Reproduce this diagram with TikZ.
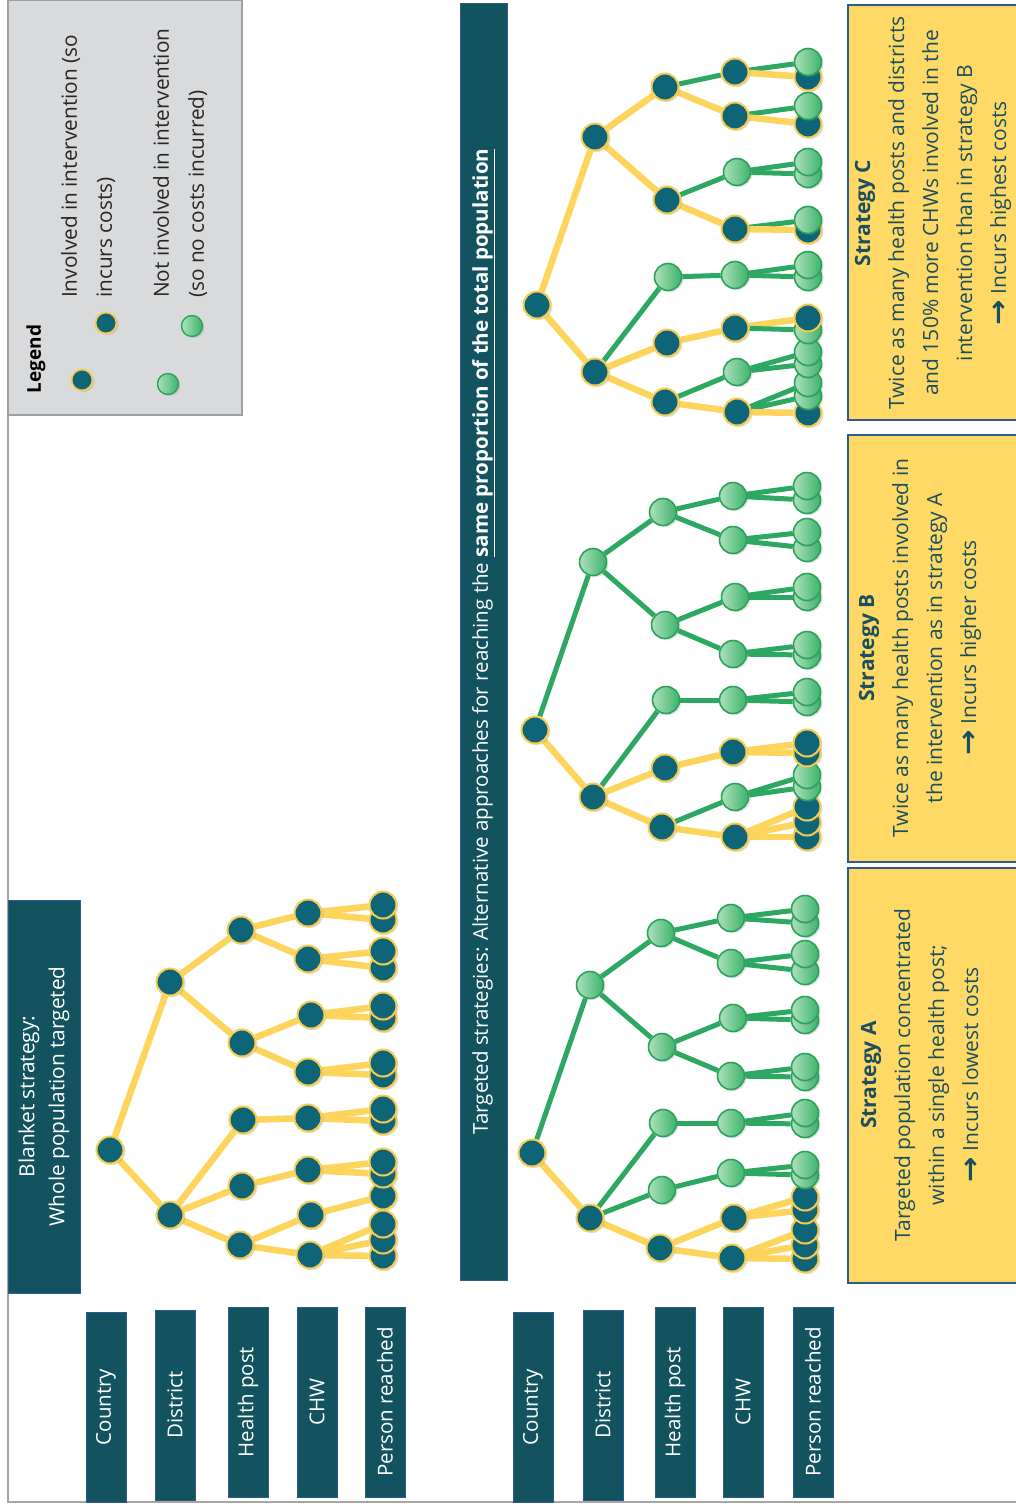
\documentclass[tikz,border=0pt]{standalone}
\usepackage{fontspec}
\setmainfont{Open Sans}
\newfontfamily\arrowfont{DejaVu Sans}
\usetikzlibrary{shadows}

\definecolor{boxteal}{HTML}{13535F}
\definecolor{nodeteal}{HTML}{0E6577}
\definecolor{nodering}{HTML}{F7CB4D}
\definecolor{edgeyellow}{HTML}{FDD55C}
\definecolor{edgegreen}{HTML}{2DA863}
\definecolor{greenlight}{HTML}{AEE0BC}
\definecolor{greendark}{HTML}{3BB46A}
\definecolor{greenring}{HTML}{2AA25A}
\definecolor{boxedge}{HTML}{2F5A8F}
\definecolor{noteyellow}{HTML}{FFD966}
\definecolor{notetext}{HTML}{1B4F5E}
\definecolor{legendfill}{HTML}{D9DADC}
\definecolor{legendedge}{HTML}{9FA0A4}
\definecolor{framegray}{HTML}{A6A6A6}

\pgfdeclarelayer{paper}
\pgfdeclarelayer{edges}
\pgfsetlayers{paper,edges,main}

% heavy arrow used in the strategy notes
\newcommand{\rarr}{\raisebox{-1pt}{\scalebox{1.45}[1.3]{\arrowfont\bfseries →}}}

\tikzset{
  nodeshadow/.style={drop shadow={opacity=0.22, shadow xshift=2pt, shadow yshift=-1.5pt}},
  edgeshadow/.style={preaction={draw=black, draw opacity=0.10, transform canvas={shift={(2pt,-1.5pt)}}}},
  inv/.style={circle, inner sep=0pt, minimum size=27pt, fill=nodeteal, draw=nodering, line width=2pt, nodeshadow},
  ninv/.style={circle, inner sep=0pt, minimum size=27pt, left color=greenlight, right color=greendark, draw=greenring, line width=1.6pt, nodeshadow},
  invsmall/.style={inv, minimum size=21pt, line width=1.8pt},
  ninvsmall/.style={ninv, minimum size=21pt, line width=1.4pt},
  yedge/.style={edgeshadow, draw=edgeyellow, line width=6.5pt},
  gedge/.style={edgeshadow, draw=edgegreen, line width=5pt},
  lvl/.style={rotate=90, fill=boxteal, draw=boxedge, line width=0.8pt, text=white,
    font=\fontsize{20.5}{24}\selectfont, minimum width=190pt, minimum height=40pt, inner sep=0pt},
  header/.style={rotate=90, fill=boxteal, draw=boxedge, line width=0.8pt, text=white, inner sep=0pt},
  note/.style={rotate=90, fill=noteyellow, draw=boxedge, line width=1.2pt, inner sep=0pt, minimum height=172pt},
  notetxt/.style={rotate=90, align=center, text=notetext, inner sep=0pt, font=\fontsize{21}{34}\selectfont},
  legtxt/.style={rotate=90, align=left, anchor=west, inner sep=0pt, text=black!85, font=\fontsize{20.8}{35}\selectfont},
}

\begin{document}
\begin{tikzpicture}[x=1pt, y=-1pt]
\useasboundingbox (0,0) rectangle (1016,1510);
\begin{pgfonlayer}{paper}
  \fill[white] (0,0) rectangle (1016,1510);
\end{pgfonlayer}

% page frame
\draw[framegray, line width=2pt] (8,0) -- (8,1502) -- (1016,1502);

% legend panel
\node[rectangle, fill=legendfill, draw=legendedge, line width=2.5pt, minimum width=234pt, minimum height=415pt, inner sep=0pt] (legend) at (125,207.5) {};
\node[rotate=90, inner sep=0pt, font=\fontsize{19}{23}\selectfont\bfseries] (legtitle) at (36,359) {Legend};
\node[legtxt] (legtxtA) at (88,298) {Involved in intervention (so\\incurs costs)};
\node[legtxt] (legtxtB) at (180,298) {Not involved in intervention\\(so no costs incurred)};
\node[invsmall] (lgA1) at (82,380) {};
\node[invsmall] (lgA2) at (106,323) {};
\node[ninvsmall] (lgB1) at (168,384) {};
\node[ninvsmall] (lgB2) at (192,326) {};
\begin{pgfonlayer}{edges}
  \draw[edgeshadow, draw=edgeyellow, line width=4.5pt] (lgA1) -- (lgA2);
  \draw[edgeshadow, draw=edgegreen, line width=4pt] (lgB1) -- (lgB2);
\end{pgfonlayer}

% section headers
\node[header, minimum width=393pt, minimum height=72pt, align=center, font=\fontsize{20.8}{30}\selectfont] (blanket) at (44,1096.5)
  {Blanket strategy:\\Whole population targeted};
\node[header, minimum width=1277pt, minimum height=47pt, font=\fontsize{20.5}{24}\selectfont] (targeted) at (483.5,641.5)
  {Targeted strategies: Alternative approaches for reaching the \underline{\textbf{same proportion of the total population}}};

% level labels
\node[lvl] (lA1) at (106,1407) {Country};
\node[lvl] (lA2) at (175,1405) {District};
\node[lvl] (lA3) at (248,1402) {Health post};
\node[lvl] (lA4) at (317,1402) {CHW};
\node[lvl] (lA5) at (385,1402) {Person reached};
\node[lvl] (lB1) at (533,1407) {Country};
\node[lvl] (lB2) at (603,1405) {District};
\node[lvl] (lB3) at (675,1402) {Health post};
\node[lvl] (lB4) at (743,1402) {CHW};
\node[lvl] (lB5) at (813,1402) {Person reached};

% strategy notes
\node[note, minimum width=415pt] (noteA) at (934,1075.5) {};
\node[note, minimum width=427pt] (noteB) at (934,648.5) {};
\node[note, minimum width=415pt] (noteC) at (934,212.5) {};
\node[notetxt] (noteAtxt) at (920,1075) {\textbf{Strategy A}\\Targeted population concentrated\\within a single health post;\\\rarr\ Incurs lowest costs};
\node[notetxt] (noteBtxt) at (920,648) {\textbf{Strategy B}\\Twice as many health posts involved in\\the intervention as in strategy A\\\rarr\ Incurs higher costs};
\node[notetxt] (noteCtxt) at (933,213) {\textbf{Strategy C}\\Twice as many health posts and districts\\and 150\% more CHWs involved in the\\intervention than in strategy B\\\rarr\ Incurs highest costs};

% ---------- blanket strategy tree ----------
\foreach \n/\s/\x/\y in {
  bl0/inv/110/1150, bl1/inv/170/982, bl2/inv/170/1215,
  bl11/inv/241/930, bl12/inv/242/1043, bl21/inv/243/1120, bl22/inv/242/1186, bl23/inv/240/1245,
  bl111/inv/308/913, bl112/inv/308/959, bl121/inv/311/1015, bl122/inv/308/1072,
  bl211/inv/308/1118, bl221/inv/308/1170, bl231/inv/311/1215, bl232/inv/310/1255,
  bl232c/inv/383/1256, bl232b/inv/383/1240, bl232a/inv/383/1224, bl231a/inv/383/1196,
  bl221b/inv/383/1174, bl221a/inv/383/1162, bl211b/inv/383/1121, bl211a/inv/383/1109,
  bl122b/inv/383/1075, bl122a/inv/383/1063, bl121b/inv/383/1018, bl121a/inv/383/1006,
  bl112b/inv/383/968, bl112a/inv/383/951, bl111b/inv/383/920, bl111a/inv/383/905}
  \node[\s] (\n) at (\x,\y) {};

% ---------- strategy A tree ----------
\foreach \n/\s/\x/\y in {
  sa0/inv/532/1153, sa1/ninv/590/985, sa2/inv/590/1218,
  sa11/ninv/661/933, sa12/ninv/662/1047, sa21/ninv/663/1123, sa22/ninv/662/1190, sa23/inv/660/1248,
  sa111/ninv/731/918, sa112/ninv/731/963, sa121/ninv/733/1018, sa122/ninv/731/1076,
  sa211/ninv/731/1123, sa221/ninv/731/1173, sa231/inv/734/1218, sa232/inv/732/1258,
  sa232c/inv/805/1259, sa232b/inv/805/1245, sa232a/inv/805/1230, sa231b/inv/805/1210, sa231a/inv/805/1197,
  sa221b/ninv/805/1175, sa221a/ninv/805/1165, sa211b/ninv/805/1124, sa211a/ninv/805/1113,
  sa122b/ninv/805/1077, sa122a/ninv/805/1067, sa121b/ninv/805/1020, sa121a/ninv/805/1010,
  sa112b/ninv/805/971, sa112a/ninv/805/954, sa111b/ninv/805/923, sa111a/ninv/805/909}
  \node[\s] (\n) at (\x,\y) {};

% ---------- strategy B tree ----------
\foreach \n/\s/\x/\y in {
  sb0/inv/535/730, sb1/ninv/593/562, sb2/inv/593/797,
  sb11/ninv/663/512, sb12/ninv/665/625, sb21/ninv/666/700, sb22/inv/665/768, sb23/inv/662/827,
  sb111/ninv/733/496, sb112/ninv/733/540, sb121/ninv/735/597, sb122/ninv/733/654,
  sb211/ninv/733/700, sb221/inv/733/752, sb231/ninv/735/797, sb232/inv/735/837,
  sb232c/inv/807/837, sb232b/inv/807/822, sb232a/inv/807/807, sb231b/ninv/807/787, sb231a/ninv/807/775,
  sb221b/inv/807/753, sb221a/inv/807/743, sb211b/ninv/807/702, sb211a/ninv/807/692,
  sb122b/ninv/807/655, sb122a/ninv/807/645, sb121b/ninv/807/597, sb121a/ninv/807/587,
  sb112b/ninv/807/548, sb112a/ninv/807/532, sb111b/ninv/807/500, sb111a/ninv/807/486}
  \node[\s] (\n) at (\x,\y) {};

% ---------- strategy C tree ----------
\foreach \n/\s/\x/\y in {
  sc0/inv/537/305, sc1/inv/595/137, sc2/inv/595/372,
  sc11/inv/665/87, sc12/inv/667/200, sc21/ninv/668/277, sc22/inv/667/343, sc23/inv/665/402,
  sc111/inv/735/72, sc112/inv/735/116, sc121/ninv/737/172, sc122/inv/735/229,
  sc211/ninv/735/275, sc221/inv/735/328, sc231/ninv/737/372, sc232/inv/737/412,
  sc232c/inv/808/413, sc232b/ninv/808/396, sc232a/ninv/808/383, sc231b/ninv/808/364, sc231a/ninv/808/352,
  sc221b/ninv/808/330, sc221a/inv/808/318, sc211b/ninv/808/277, sc211a/ninv/808/265,
  sc122b/inv/808/230, sc122a/ninv/808/220, sc121b/ninv/808/174, sc121a/ninv/808/162,
  sc112b/inv/808/124, sc112a/ninv/808/106, sc111b/inv/808/77, sc111a/ninv/808/62}
  \node[\s] (\n) at (\x,\y) {};

% ---------- connectors ----------
\begin{pgfonlayer}{edges}
\foreach \a/\b/\s in {
  bl0/bl1/yedge, bl0/bl2/yedge, bl1/bl11/yedge, bl1/bl12/yedge,
  bl2/bl21/yedge, bl2/bl22/yedge, bl2/bl23/yedge,
  bl11/bl111/yedge, bl11/bl112/yedge, bl12/bl121/yedge, bl12/bl122/yedge,
  bl21/bl211/yedge, bl22/bl221/yedge, bl23/bl231/yedge, bl23/bl232/yedge,
  bl111/bl111a/yedge, bl111/bl111b/yedge, bl112/bl112a/yedge, bl112/bl112b/yedge,
  bl121/bl121a/yedge, bl121/bl121b/yedge, bl122/bl122a/yedge, bl122/bl122b/yedge,
  bl211/bl211a/yedge, bl211/bl211b/yedge, bl221/bl221a/yedge, bl221/bl221b/yedge,
  bl231/bl231a/yedge, bl232/bl232a/yedge, bl232/bl232b/yedge, bl232/bl232c/yedge}
  \draw[\s] (\a) -- (\b);
\foreach \a/\b/\s in {
  sa0/sa1/gedge, sa0/sa2/yedge, sa1/sa11/gedge, sa1/sa12/gedge,
  sa2/sa21/gedge, sa2/sa22/gedge, sa2/sa23/yedge,
  sa11/sa111/gedge, sa11/sa112/gedge, sa12/sa121/gedge, sa12/sa122/gedge,
  sa21/sa211/gedge, sa22/sa221/gedge, sa23/sa231/yedge, sa23/sa232/yedge,
  sa111/sa111a/gedge, sa111/sa111b/gedge, sa112/sa112a/gedge, sa112/sa112b/gedge,
  sa121/sa121a/gedge, sa121/sa121b/gedge, sa122/sa122a/gedge, sa122/sa122b/gedge,
  sa211/sa211a/gedge, sa211/sa211b/gedge, sa221/sa221a/gedge, sa221/sa221b/gedge,
  sa231/sa231a/yedge, sa231/sa231b/yedge,
  sa232/sa232a/yedge, sa232/sa232b/yedge, sa232/sa232c/yedge}
  \draw[\s] (\a) -- (\b);
\foreach \a/\b/\s in {
  sb0/sb1/gedge, sb0/sb2/yedge, sb1/sb11/gedge, sb1/sb12/gedge,
  sb2/sb21/gedge, sb2/sb22/yedge, sb2/sb23/yedge,
  sb11/sb111/gedge, sb11/sb112/gedge, sb12/sb121/gedge, sb12/sb122/gedge,
  sb21/sb211/gedge, sb22/sb221/yedge, sb23/sb231/gedge, sb23/sb232/yedge,
  sb111/sb111a/gedge, sb111/sb111b/gedge, sb112/sb112a/gedge, sb112/sb112b/gedge,
  sb121/sb121a/gedge, sb121/sb121b/gedge, sb122/sb122a/gedge, sb122/sb122b/gedge,
  sb211/sb211a/gedge, sb211/sb211b/gedge, sb221/sb221a/yedge, sb221/sb221b/yedge,
  sb231/sb231a/gedge, sb231/sb231b/gedge,
  sb232/sb232a/yedge, sb232/sb232b/yedge, sb232/sb232c/yedge}
  \draw[\s] (\a) -- (\b);
\foreach \a/\b/\s in {
  sc0/sc1/yedge, sc0/sc2/yedge, sc1/sc11/yedge, sc1/sc12/yedge,
  sc2/sc21/gedge, sc2/sc22/yedge, sc2/sc23/yedge,
  sc11/sc111/gedge, sc11/sc112/yedge, sc12/sc121/gedge, sc12/sc122/yedge,
  sc21/sc211/gedge, sc22/sc221/yedge, sc23/sc231/gedge, sc23/sc232/yedge,
  sc111/sc111a/gedge, sc111/sc111b/yedge, sc112/sc112a/gedge, sc112/sc112b/yedge,
  sc121/sc121a/gedge, sc121/sc121b/gedge, sc122/sc122a/gedge, sc122/sc122b/yedge,
  sc211/sc211a/gedge, sc211/sc211b/gedge, sc221/sc221a/yedge, sc221/sc221b/gedge,
  sc231/sc231a/gedge, sc231/sc231b/gedge,
  sc232/sc232a/gedge, sc232/sc232b/gedge, sc232/sc232c/yedge}
  \draw[\s] (\a) -- (\b);
\end{pgfonlayer}
\end{tikzpicture}
\end{document}
